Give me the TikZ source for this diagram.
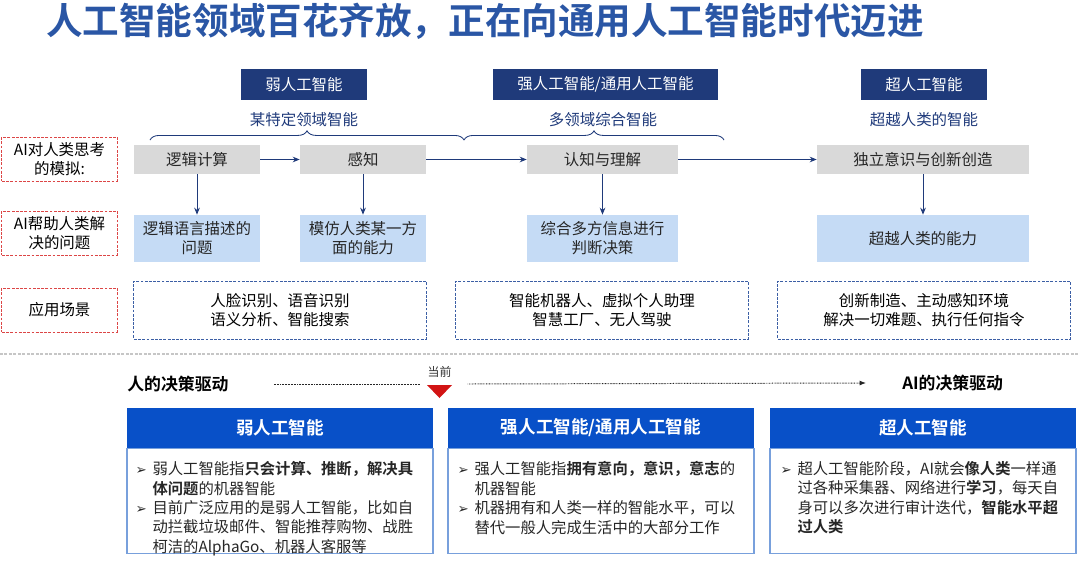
\documentclass[tikz,border=0pt]{standalone}
\usepackage{fontspec}
\setmainfont{Noto Sans CJK SC}[BoldFont={Noto Sans CJK SC Bold}]
\newfontfamily\symfont{DejaVu Sans}
\usetikzlibrary{positioning, arrows.meta, decorations.pathreplacing, calc}

\definecolor{titleblue}{RGB}{42,86,165}
\definecolor{navy}{RGB}{31,58,122}
\definecolor{boxgray}{RGB}{217,217,217}
\definecolor{boxblue}{RGB}{197,219,245}
\definecolor{dashblue}{RGB}{60,95,165}
\definecolor{labelred}{RGB}{220,70,70}
\definecolor{hdblue}{RGB}{8,80,200}
\definecolor{lineblue}{RGB}{120,160,220}
\definecolor{nowred}{RGB}{210,20,20}

\newcommand{\bul}{\makebox[12pt][l]{\symfont\fontsize{9.5}{9.5}\selectfont ➢}}
\newcommand{\ind}{\hspace*{12pt}}

\begin{document}
\begin{tikzpicture}[
      x=0.025cm, y=-0.025cm,
      topfont/.style={font=\fontsize{11}{13.5}\selectfont},
      hdbox/.style={
         fill=navy,
         text=white,
         inner sep=0pt,
         minimum height=0.775cm,
         topfont},
      subtxt/.style={text=navy, inner sep=0pt, topfont},
      graybox/.style={
         fill=boxgray,
         text=black!85,
         inner sep=0pt,
         minimum height=0.725cm,
         topfont},
      bluebox/.style={
         fill=boxblue,
         text=black!85,
         inner sep=0pt,
         align=center,
         minimum height=1.175cm,
         topfont},
      scenebox/.style={
         draw=dashblue,
         dash pattern=on 2pt off 1pt,
         line width=0.7pt,
         inner sep=0pt,
         align=center,
         minimum width=7.3cm,
         minimum height=1.45cm,
         topfont},
      rowlabel/.style={
         draw=labelred,
         dash pattern=on 2pt off 1pt,
         line width=0.7pt,
         inner sep=0pt,
         align=center,
         minimum width=2.875cm,
         minimum height=1.1cm,
         font=\fontsize{11}{14}\selectfont},
      myarrow/.style={-{Stealth[length=5pt,width=4pt]}, draw=navy, line width=0.6pt},
      dotline/.style={black!85, line width=0.7pt, dash pattern=on 0.5pt off 0.6pt},
      stagehd/.style={
         fill=hdblue,
         text=white,
         inner sep=0pt,
         minimum width=7.65cm,
         minimum height=1cm,
         font=\bfseries\fontsize{12.5}{14}\selectfont},
      stagebody/.style={
         draw=lineblue,
         line width=0.8pt,
         inner sep=0pt,
         minimum width=7.65cm,
         minimum height=2.625cm},
      bodytxt/.style={
         anchor=north west,
         align=left,
         inner sep=0pt,
         text=black!85,
         font=\fontsize{10.9}{13.8}\selectfont},
      drivetxt/.style={anchor=west, inner sep=0pt, font=\bfseries\fontsize{12}{14}\selectfont}
      ]
      \useasboundingbox (0,0) rectangle (1080,560);

      \node[anchor=west, inner sep=0pt, text=titleblue, font=\bfseries\fontsize{26}{30}\selectfont] (title) at (46,21)
         {人工智能领域百花齐放，正在向通用人工智能时代迈进};

      % stage headers
      \node[hdbox, minimum width=3.15cm] (weakhd) at (304,84.5) {弱人工智能};
      \node[hdbox, minimum width=5.625cm] (stronghd) at (605.5,84.5) {强人工智能/通用人工智能};
      \node[hdbox, minimum width=3.15cm] (superhd) at (924,84.5) {超人工智能};
      \node[subtxt] (weaksub) at (304,120) {某特定领域智能};
      \node[subtxt] (strongsub) at (603,120) {多领域综合智能};
      \node[subtxt] (supersub) at (924,120) {超越人类的智能};

      \draw[navy, line width=0.6pt, decorate, decoration={brace, amplitude=6.5pt}] (150,140) -- (464,140);
      \draw[navy, line width=0.6pt, decorate, decoration={brace, amplitude=6.5pt}] (464,140) -- (724,140);

      % row labels
      \node[rowlabel] (lab1) at (59.5,159) {AI对人类思考\\的模拟:};
      \node[rowlabel] (lab2) at (59.5,233) {AI帮助人类解\\决的问题};
      \node[rowlabel] (lab3) at (59.5,310) {应用场景};

      \node[graybox, minimum width=3.15cm] (logic) at (197,159.5) {逻辑计算};
      \node[graybox, minimum width=3.15cm] (percep) at (363,159.5) {感知};
      \node[graybox, minimum width=3.775cm] (cogn) at (602.5,159.5) {认知与理解};
      \node[graybox, minimum width=5.3cm] (indep) at (923,159.5) {独立意识与创新创造};

      \node[bluebox, minimum width=3.15cm] (solve1) at (197,238.5) {逻辑语言描述的\\问题};
      \node[bluebox, minimum width=3.15cm] (solve2) at (363,238.5) {模仿人类某一方\\面的能力};
      \node[bluebox, minimum width=3.775cm] (solve3) at (602.5,238.5) {综合多方信息进行\\判断决策};
      \node[bluebox, minimum width=5.3cm] (solve4) at (923,238.5) {超越人类的能力};

      \node[scenebox] (scene1) at (280,310) {人脸识别、语音识别\\语义分析、智能搜索};
      \node[scenebox] (scene2) at (602,310) {智能机器人、虚拟个人助理\\智慧工厂、无人驾驶};
      \node[scenebox] (scene3) at (924,310) {创新制造、主动感知环境\\解决一切难题、执行任何指令};

    \foreach \i/\j in {logic/percep, percep/cogn, cogn/indep,
      logic/solve1, percep/solve2, cogn/solve3, indep/solve4}
       \draw [myarrow] (\i) -- (\j);

      \draw[gray!45, line width=0.8pt, dash pattern=on 2pt off 1.2pt] (0,354) -- (1080,354);

      % decision drive line
      \node[drivetxt] (human) at (127,384) {人的决策驱动};
      \node[drivetxt] (aidrive) at (902,383) {AI的决策驱动};
      \node[inner sep=0pt, text=black!80, font=\fontsize{8.5}{10}\selectfont] (now) at (439.5,372) {当前};
      \coordinate (nowpt) at (439.5,384);
      \fill[nowred] (427,385) -- (452,385) -- (439.5,398) -- cycle;
      \draw[dotline] ($(human.east)+(45,0)$) -- ($(nowpt)+(-20,0)$);
      \draw[dotline, -{Latex[length=4.5pt,width=3.5pt]}] ($(nowpt)+(28,0)$) -- ($(aidrive.west)+(-36,0)$);

      % stage boxes
      \node[stagehd] (weakstage) at (280,428) {弱人工智能};
      \node[stagehd] (strongstage) at (601,428) {强人工智能/通用人工智能};
      \node[stagehd] (superstage) at (923,428) {超人工智能};
      \node[stagebody, below=0pt of weakstage] (weakbody) {};
      \node[stagebody, below=0pt of strongstage] (strongbody) {};
      \node[stagebody, below=0pt of superstage] (superbody) {};

      \node[bodytxt] (weaktxt) at ($(weakbody.north west)+(9,13)$)
         {\bul 弱人工智能指\textbf{只会计算、推断，解决具}\\
          \ind\textbf{体问题}的机器智能\\
          \bul 目前广泛应用的是弱人工智能，比如自\\
          \ind 动拦截垃圾邮件、智能推荐购物、战胜\\
          \ind 柯洁的AlphaGo、机器人客服等};
      \node[bodytxt] (strongtxt) at ($(strongbody.north west)+(10,13)$)
         {\bul 强人工智能指\textbf{拥有意向，意识，意志}的\\
          \ind 机器智能\\
          \bul 机器拥有和人类一样的智能水平，可以\\
          \ind 替代一般人完成生活中的大部分工作};
      \node[bodytxt] (supertxt) at ($(superbody.north west)+(11,13)$)
         {\bul 超人工智能阶段，AI就会\textbf{像人类}一样通\\
          \ind 过各种采集器、网络进行\textbf{学习}，每天自\\
          \ind 身可以多次进行审计迭代，\textbf{智能水平超}\\
          \ind\textbf{过人类}};
\end{tikzpicture}
\end{document}
